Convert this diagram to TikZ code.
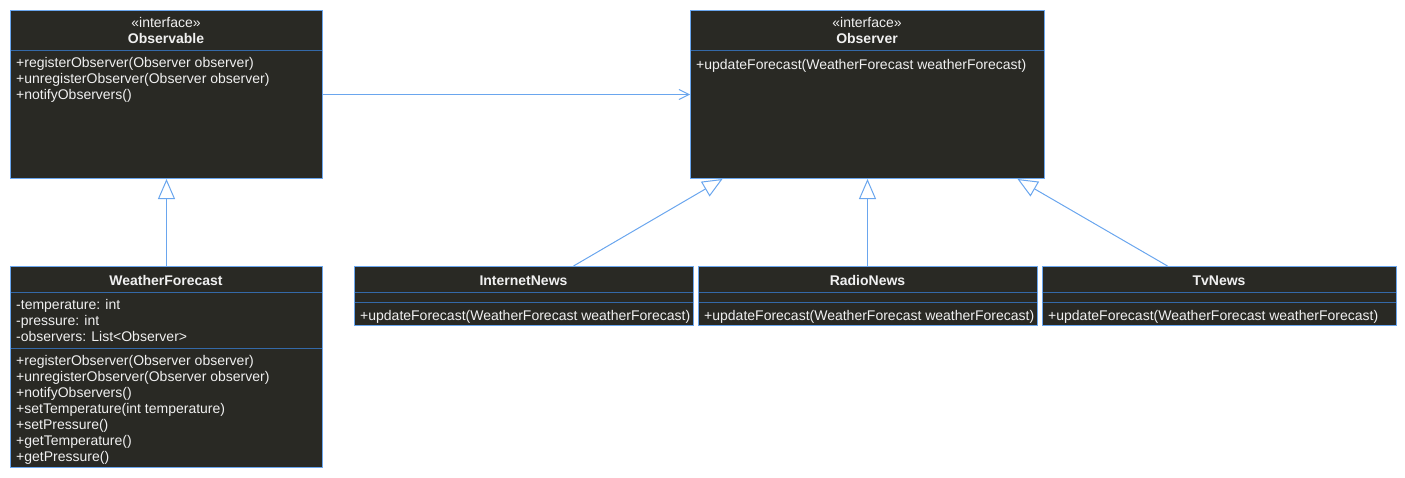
\documentclass[tikz,border=0pt]{standalone}
\usepackage{fontspec}
\setmainfont{Liberation Sans}
\usetikzlibrary{positioning,arrows.meta}
\definecolor{boxfill}{HTML}{292924}
\definecolor{boxline}{HTML}{6AA6EE}
\definecolor{divline}{HTML}{3469A8}
\definecolor{textcol}{HTML}{F0F0F0}
\begin{document}
\begin{tikzpicture}[x=1pt,y=-1pt]
        \tikzstyle{classbox} = [rectangle, anchor=north west, inner sep=0pt, draw=boxline, fill=boxfill, line width=1pt]
        \tikzstyle{divider} = [draw=divline, line width=1pt]
        \tikzstyle{stereo} = [anchor=base, inner sep=0pt, text=textcol, font=\fontsize{14}{16}\selectfont]
        \tikzstyle{title} = [anchor=base, inner sep=0pt, text=textcol, font=\fontsize{14}{16}\selectfont\bfseries]
        \tikzstyle{members} = [anchor=north west, inner sep=0pt, align=left, text=textcol, font=\fontsize{14}{16}\selectfont, execute at begin node=\strut]
        \tikzstyle{link} = [draw=boxline, line width=1pt]
        \tikzstyle{inherit} = [link, -{Triangle[length=20pt, width=17pt, fill=white]}]
        \tikzstyle{assoc} = [link, -{Straight Barb[length=10pt, width=10pt]}]

        \useasboundingbox (0,0) rectangle (1405,477);

        \node (observable) [classbox, minimum width=312pt, minimum height=168pt] at (10,10) {};
        \node (observer) [classbox, minimum width=354pt, minimum height=168pt] at (690,10) {};
        \node (weather) [classbox, minimum width=312pt, minimum height=201pt] at (10,266) {};
        \node (internet) [classbox, minimum width=339pt, minimum height=59pt] at (354,266) {};
        \node (radio) [classbox, minimum width=339pt, minimum height=59pt] at (698,266) {};
        \node (tv) [classbox, minimum width=354pt, minimum height=59pt] at (1042,266) {};

        \draw [divider] (10.5,50) -- (321.5,50);
        \draw [divider] (690.5,50) -- (1043.5,50);
        \draw [divider] (10.5,292) -- (321.5,292);
        \draw [divider] (10.5,348) -- (321.5,348);
        \draw [divider] (354.5,292) -- (692.5,292);
        \draw [divider] (354.5,302) -- (692.5,302);
        \draw [divider] (698.5,292) -- (1036.5,292);
        \draw [divider] (698.5,302) -- (1036.5,302);
        \draw [divider] (1042.5,292) -- (1395.5,292);
        \draw [divider] (1042.5,302) -- (1395.5,302);

        \node (obsstereo) [stereo] at (166,27.2) {«interface»};
        \node (obstitle) [title] at (166,43) {Observable};
        \node (obsmethods) [members] at (16,57.6) {+registerObserver(Observer observer)\\+unregisterObserver(Observer observer)\\+notifyObservers()};

        \node (obrstereo) [stereo] at (867,27.2) {«interface»};
        \node (obrtitle) [title] at (867,43) {Observer};
        \node (obrmethods) [members] at (696,57.6) {+updateForecast(WeatherForecast weatherForecast)};

        \node (wftitle) [title] at (166,285) {WeatherForecast};
        \node (wfattrs) [members] at (16,299.4) {-temperature: int\\-pressure: int\\-observers: List<Observer>};
        \node (wfmethods) [members] at (16,354.8) {+registerObserver(Observer observer)\\+unregisterObserver(Observer observer)\\+notifyObservers()\\+setTemperature(int temperature)\\+setPressure()\\+getTemperature()\\+getPressure()};

        \node (intitle) [title] at (523.5,285) {InternetNews};
        \node (inmethods) [members] at (360,308.6) {+updateForecast(WeatherForecast weatherForecast)};
        \node (radtitle) [title] at (867.5,285) {RadioNews};
        \node (radmethods) [members] at (704,308.6) {+updateForecast(WeatherForecast weatherForecast)};
        \node (tvtitle) [title] at (1219,285) {TvNews};
        \node (tvmethods) [members] at (1048,308.6) {+updateForecast(WeatherForecast weatherForecast)};

        \draw [assoc] (observable) -- (observer);
        \draw [inherit] (weather.north) -- (observable.south);
        \draw [inherit] ([xshift=49.5pt]internet.north) -- ([xshift=-145pt]observer.south);
        \draw [inherit] (radio.north -| observer.south) -- (observer.south);
        \draw [inherit] ([xshift=-52pt]tv.north) -- ([xshift=150pt]observer.south);
\end{tikzpicture}
\end{document}
